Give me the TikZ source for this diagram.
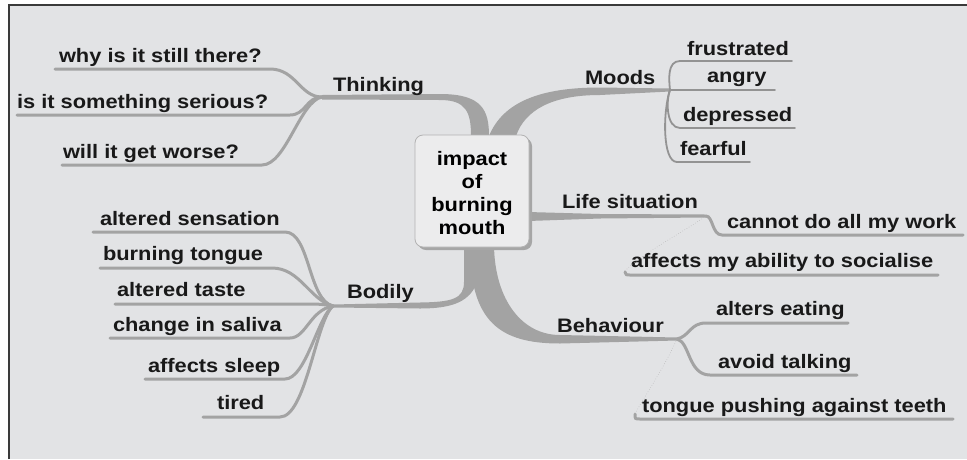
\documentclass[tikz,border=0pt]{standalone}
\usepackage{fontspec}
\newfontfamily\mmfont[FakeStretch=1.12]{Liberation Sans}
\begin{document}
\begin{tikzpicture}[x=1pt,y=-1pt,
  lbl/.style={font=\mmfont\bfseries\fontsize{19.5}{23}\selectfont, text=black!90, inner sep=0pt, outer sep=0pt, anchor=base west},
  twig/.style={draw=branchgray, line width=3pt, line cap=round},
  thin/.style={draw=branchgray!90!black, line width=1.8pt, line cap=round},
  faint/.style={draw=black!30, line width=0.5pt, dotted},
  trunk/.style={fill=branchgray, draw=none}]
\definecolor{bggray}{HTML}{E2E3E5}
\definecolor{branchgray}{HTML}{A3A3A3}
\definecolor{framegray}{HTML}{3A3A3A}
\definecolor{boxfill}{HTML}{ECECED}
\useasboundingbox (0,0) rectangle (967,459);
\fill[white] (0,0) rectangle (967,459);
\fill[bggray] (9,5) rectangle (967,459);
\draw[framegray, line width=2.5pt] (9,459) -- (9,5) -- (967,5);

% junction coordinates
\coordinate (jT) at (322,97);
\coordinate (jM) at (670,90);
\coordinate (jL) at (706,216);
\coordinate (jBh) at (677,339);
\coordinate (jBo) at (333,306);

% main tapered branches
\path[trunk] (jT) ++(0,-2) -- (440,94) .. controls (482,94) and (489,110) .. (489,136)
   -- (471,136) .. controls (471,112) and (466,100) .. (440,100) -- (322,99.5) -- cycle;
\path[trunk] (489,136) .. controls (503,102) and (540,87.5) .. (600,87.5) -- (670,88.5)
   -- (670,91.5) -- (600,95) .. controls (552,95) and (525,110) .. (516,136) -- cycle;
\path[trunk] (528,212) -- (600,214) -- (706,214.5) -- (706,217.5) -- (600,218.5) -- (528,221) -- cycle;
\path[trunk] (464,246) -- (464,282) .. controls (464,299) and (452,302) .. (420,302.5) -- (333,304.5)
   -- (333,307.5) -- (420,308.5) .. controls (470,308.5) and (482,292) .. (482,246) -- cycle;
\path[trunk] (470,246) .. controls (470,322) and (500,343.5) .. (560,343.5) -- (677,340.5)
   -- (677,337.5) -- (560,335) .. controls (522,335) and (495,300) .. (494,246) -- cycle;

% central node
\fill[black!35, rounded corners=8pt] (418,138) rectangle (532,250);
\node[draw=black!30, fill=boxfill, rounded corners=8pt, minimum width=114pt, minimum height=112pt,
  inner sep=0pt, line width=0.8pt] (root) at (472,191) {};
\node[font=\mmfont\bfseries\fontsize{19.5}{23}\selectfont, align=center, inner sep=0pt] (roottext) at (472,193)
  {impact\\of\\burning\\mouth};

% branch labels
\node[lbl] (thinking) at (333,91) {Thinking};
\node[lbl] (moods) at (585,84) {Moods};
\node[lbl] (life) at (562,208) {Life situation};
\node[lbl] (behav) at (557,332) {Behaviour};
\node[lbl] (bodily) at (347,298) {Bodily};

% Thinking leaves
\node[lbl] (why) at (59,62.5) {why is it still there?};
\node[lbl] (serious) at (17,108.5) {is it something serious?};
\node[lbl] (worse) at (63,158.5) {will it get worse?};
\draw[twig] (jT) .. controls (300,97) and (296,69) .. (270,69) -- (55,69);
\draw[twig] (jT) .. controls (306,97) and (306,115) .. (290,115) -- (17,115);
\draw[twig] (jT) .. controls (300,101) and (286,165) .. (262,165) -- (62,165);

% Moods leaves
\node[lbl] (frus) at (687,55) {frustrated};
\node[lbl] (angry) at (707,82) {angry};
\node[lbl] (depr) at (683,121) {depressed};
\node[lbl] (fear) at (680,155) {fearful};
\draw[thin] (jM) .. controls (669,80) and (667,61) .. (680,61) -- (792,61);
\draw[thin] (jM) -- (775,90);
\draw[thin] (jM) .. controls (666,100) and (666,128) .. (680,128) -- (795,128);
\draw[thin] (jM) .. controls (663,110) and (662,162) .. (677,162) -- (750,162);

% Life situation leaves
\node[lbl] (cannot) at (727,228) {cannot do all my work};
\node[lbl] (social) at (631,267.5) {affects my ability to socialise};
\draw[twig] (jL) .. controls (713,216) and (712,235) .. (722,235) -- (963,235);
\draw[faint] (jL) .. controls (680,234) and (640,255) .. (625,271);
\draw[twig] (625,272) .. controls (626,275) .. (630,275) -- (938,275);

% Behaviour leaves
\node[lbl] (eat) at (716,315.5) {alters eating};
\node[lbl] (talk) at (718,368) {avoid talking};
\node[lbl] (teeth) at (642,412.5) {tongue pushing against teeth};
\draw[twig] (jBh) .. controls (690,336) and (690,323) .. (706,323) -- (848,323);
\draw[twig] (jBh) .. controls (690,342) and (688,375) .. (710,375) -- (857,375);
\draw[faint] (jBh) .. controls (662,372) and (642,400) .. (635,414);
\draw[twig] (635,414) .. controls (635,419) .. (640,419) -- (953,419);

% Bodily leaves
\node[lbl] (sens) at (100,225) {altered sensation};
\node[lbl] (burn) at (103,260.5) {burning tongue};
\node[lbl] (taste) at (117,296) {altered taste};
\node[lbl] (saliva) at (113,331) {change in saliva};
\node[lbl] (sleep) at (148,372) {affects sleep};
\node[lbl] (tired) at (217,409) {tired};
\draw[twig] (jBo) .. controls (308,300) and (310,232) .. (285,232) -- (93,232);
\draw[twig] (jBo) .. controls (310,300) and (300,268) .. (272,268) -- (100,268);
\draw[twig] (jBo) .. controls (320,304) .. (300,304) -- (115,304);
\draw[twig] (jBo) .. controls (310,310) and (306,338) .. (290,338) -- (110,338);
\draw[twig] (jBo) .. controls (318,316) and (306,379) .. (285,379) -- (145,379);
\draw[twig] (jBo) .. controls (316,320) and (306,417) .. (280,417) -- (203,417);
\end{tikzpicture}
\end{document}
